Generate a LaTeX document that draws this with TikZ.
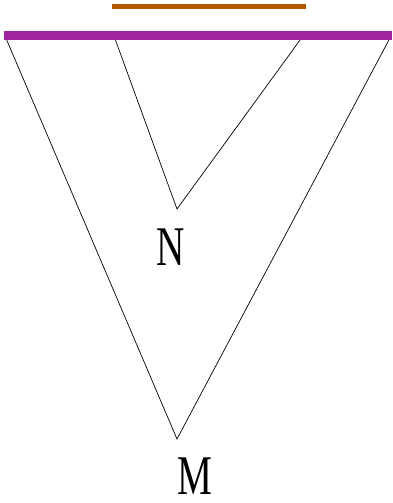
\documentclass[tikz,border=0pt]{standalone}
\usepackage{fontspec}
\setmainfont{Liberation Serif}
\usepackage{tikz}
\usetikzlibrary{positioning}
\definecolor{barpurple}{RGB}{160,36,160}
\definecolor{barorange}{RGB}{180,84,0}

\begin{document}
\begin{tikzpicture}[x=1pt, y=-1pt,
  bar/.style={line width=#1},
  edge/.style={draw, black, line width=0.7pt},
  letter/.style={font=\fontsize{56}{56}\selectfont, xscale=0.7, inner sep=0pt},
]
  \useasboundingbox (0,0) rectangle (392,503);
  % bars at the top
  \coordinate (topl) at (112,6.5);
  \coordinate (topr) at (306,6.5);
  \coordinate (basel) at (4,35.5);
  \coordinate (baser) at (392,35.5);
  \draw[bar=5.5pt, barorange] (topl) -- (topr);
  % outer and inner V
  \coordinate (outl) at (5,36);
  \coordinate (outr) at (391,36);
  \coordinate (tipM) at (177,439);
  \coordinate (innl) at (114,36);
  \coordinate (innr) at (303,36);
  \coordinate (tipN) at (177,209);
  \draw[edge] (outl) -- (tipM) -- (outr);
  \draw[edge] (innl) -- (tipN) -- (innr);
  \draw[bar=9pt, barpurple] (basel) -- (baser);
  % labels
  \node[letter] (N) at (171,247) {N};
  \node[letter] (M) at (195,476) {M};
\end{tikzpicture}
\end{document}
